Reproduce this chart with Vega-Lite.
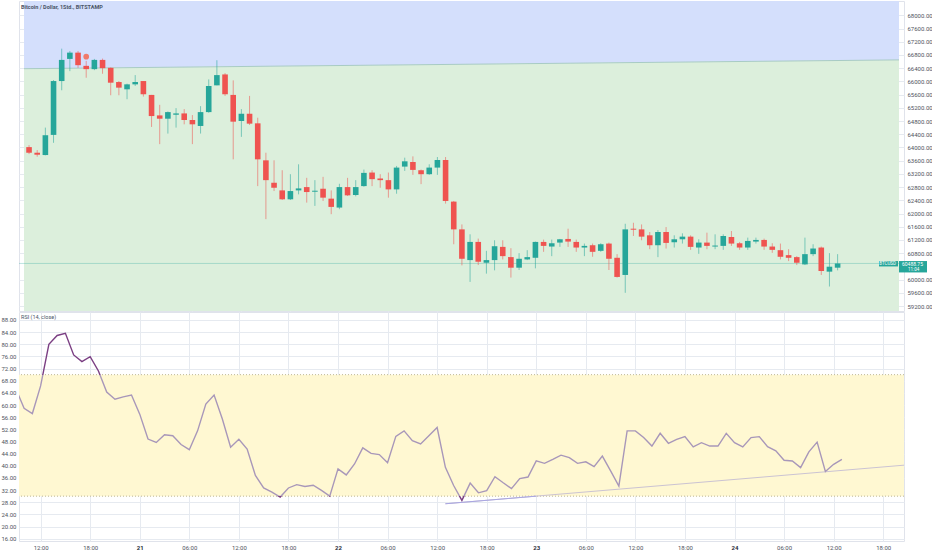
{
  "$schema": "https://vega.github.io/schema/vega-lite/v6.json",
  "padding": 0,
  "bounds": "flush",
  "spacing": 1,
  "background": "white",
  "datasets": {
    "zones": [
      {"t": "2024-06-20T09:23:00Z", "top": 68433, "mid": 66384, "bot": 59049},
      {"t": "2024-06-24T20:31:00Z", "top": 68433, "mid": 66650, "bot": 59049}
    ],
    "candles": [
      {"t": "2024-06-20T10:00:00Z", "open": 64010, "high": 64070, "low": 63800, "close": 63840},
      {"t": "2024-06-20T11:00:00Z", "open": 63840, "high": 63920, "low": 63720, "close": 63780},
      {"t": "2024-06-20T12:00:00Z", "open": 63770, "high": 64600, "low": 63760, "close": 64370},
      {"t": "2024-06-20T13:00:00Z", "open": 64380, "high": 66040, "low": 64140, "close": 66010},
      {"t": "2024-06-20T14:00:00Z", "open": 66010, "high": 66990, "low": 65730, "close": 66650},
      {"t": "2024-06-20T15:00:00Z", "open": 66680, "high": 66920, "low": 66310, "close": 66870},
      {"t": "2024-06-20T16:00:00Z", "open": 66870, "high": 66920, "low": 66410, "close": 66490},
      {"t": "2024-06-20T17:00:00Z", "open": 66470, "high": 66620, "low": 66110, "close": 66370},
      {"t": "2024-06-20T18:00:00Z", "open": 66370, "high": 66680, "low": 66340, "close": 66650},
      {"t": "2024-06-20T19:00:00Z", "open": 66650, "high": 66690, "low": 66230, "close": 66400},
      {"t": "2024-06-20T20:00:00Z", "open": 66410, "high": 66420, "low": 65580, "close": 65960},
      {"t": "2024-06-20T21:00:00Z", "open": 65980, "high": 66010, "low": 65580, "close": 65810},
      {"t": "2024-06-20T22:00:00Z", "open": 65760, "high": 65930, "low": 65460, "close": 65910},
      {"t": "2024-06-20T23:00:00Z", "open": 65910, "high": 66190, "low": 65860, "close": 65980},
      {"t": "2024-06-21T00:00:00Z", "open": 66010, "high": 66010, "low": 65540, "close": 65610},
      {"t": "2024-06-21T01:00:00Z", "open": 65590, "high": 65590, "low": 64620, "close": 64950},
      {"t": "2024-06-21T02:00:00Z", "open": 64970, "high": 65290, "low": 64100, "close": 64870},
      {"t": "2024-06-21T03:00:00Z", "open": 64870, "high": 65090, "low": 64420, "close": 65070},
      {"t": "2024-06-21T04:00:00Z", "open": 64990, "high": 65190, "low": 64600, "close": 65030},
      {"t": "2024-06-21T05:00:00Z", "open": 65030, "high": 65160, "low": 64700, "close": 64830},
      {"t": "2024-06-21T06:00:00Z", "open": 64830, "high": 64980, "low": 64100, "close": 64700},
      {"t": "2024-06-21T07:00:00Z", "open": 64650, "high": 65250, "low": 64420, "close": 65070},
      {"t": "2024-06-21T08:00:00Z", "open": 65070, "high": 66060, "low": 65050, "close": 65860},
      {"t": "2024-06-21T09:00:00Z", "open": 65880, "high": 66640, "low": 65880, "close": 66190},
      {"t": "2024-06-21T10:00:00Z", "open": 66210, "high": 66250, "low": 65560, "close": 65610},
      {"t": "2024-06-21T11:00:00Z", "open": 65590, "high": 66030, "low": 63640, "close": 64780},
      {"t": "2024-06-21T12:00:00Z", "open": 64800, "high": 65160, "low": 64320, "close": 65020},
      {"t": "2024-06-21T13:00:00Z", "open": 65020, "high": 65560, "low": 64680, "close": 64720},
      {"t": "2024-06-21T14:00:00Z", "open": 64730, "high": 64900, "low": 62830, "close": 63640},
      {"t": "2024-06-21T15:00:00Z", "open": 63610, "high": 63840, "low": 61830, "close": 63010},
      {"t": "2024-06-21T16:00:00Z", "open": 62930, "high": 63610, "low": 62680, "close": 62780},
      {"t": "2024-06-21T17:00:00Z", "open": 62700, "high": 63310, "low": 62410, "close": 62430},
      {"t": "2024-06-21T18:00:00Z", "open": 62430, "high": 63190, "low": 62410, "close": 62680},
      {"t": "2024-06-21T19:00:00Z", "open": 62700, "high": 63490, "low": 62580, "close": 62760},
      {"t": "2024-06-21T20:00:00Z", "open": 62800, "high": 63080, "low": 62330, "close": 62650},
      {"t": "2024-06-21T21:00:00Z", "open": 62660, "high": 63010, "low": 62230, "close": 62690},
      {"t": "2024-06-21T22:00:00Z", "open": 62750, "high": 63110, "low": 62380, "close": 62480},
      {"t": "2024-06-21T23:00:00Z", "open": 62450, "high": 62700, "low": 61980, "close": 62200},
      {"t": "2024-06-22T00:00:00Z", "open": 62180, "high": 62900, "low": 62130, "close": 62800},
      {"t": "2024-06-22T01:00:00Z", "open": 62800, "high": 63080, "low": 62530, "close": 62550},
      {"t": "2024-06-22T02:00:00Z", "open": 62560, "high": 63010, "low": 62520, "close": 62800},
      {"t": "2024-06-22T03:00:00Z", "open": 62830, "high": 63330, "low": 62810, "close": 63230},
      {"t": "2024-06-22T04:00:00Z", "open": 63240, "high": 63310, "low": 62830, "close": 63040},
      {"t": "2024-06-22T05:00:00Z", "open": 63060, "high": 63190, "low": 62780, "close": 63010},
      {"t": "2024-06-22T06:00:00Z", "open": 63010, "high": 63240, "low": 62480, "close": 62730},
      {"t": "2024-06-22T07:00:00Z", "open": 62730, "high": 63440, "low": 62600, "close": 63390},
      {"t": "2024-06-22T08:00:00Z", "open": 63420, "high": 63690, "low": 63290, "close": 63580},
      {"t": "2024-06-22T09:00:00Z", "open": 63560, "high": 63730, "low": 63170, "close": 63320},
      {"t": "2024-06-22T10:00:00Z", "open": 63310, "high": 63330, "low": 62890, "close": 63190},
      {"t": "2024-06-22T11:00:00Z", "open": 63190, "high": 63490, "low": 63170, "close": 63390},
      {"t": "2024-06-22T12:00:00Z", "open": 63390, "high": 63710, "low": 63170, "close": 63620},
      {"t": "2024-06-22T13:00:00Z", "open": 63620, "high": 63710, "low": 62300, "close": 62380},
      {"t": "2024-06-22T14:00:00Z", "open": 62360, "high": 62380, "low": 61070, "close": 61520},
      {"t": "2024-06-22T15:00:00Z", "open": 61520, "high": 61670, "low": 60430, "close": 60630},
      {"t": "2024-06-22T16:00:00Z", "open": 60590, "high": 61370, "low": 59930, "close": 61140},
      {"t": "2024-06-22T17:00:00Z", "open": 61140, "high": 61240, "low": 60440, "close": 60540},
      {"t": "2024-06-22T18:00:00Z", "open": 60510, "high": 60870, "low": 60180, "close": 60590},
      {"t": "2024-06-22T19:00:00Z", "open": 60590, "high": 61190, "low": 60280, "close": 61010},
      {"t": "2024-06-22T20:00:00Z", "open": 60990, "high": 61190, "low": 60610, "close": 60710},
      {"t": "2024-06-22T21:00:00Z", "open": 60680, "high": 60950, "low": 60060, "close": 60360},
      {"t": "2024-06-22T22:00:00Z", "open": 60360, "high": 60800, "low": 60290, "close": 60630},
      {"t": "2024-06-22T23:00:00Z", "open": 60610, "high": 60890, "low": 60590, "close": 60680},
      {"t": "2024-06-23T00:00:00Z", "open": 60660, "high": 61150, "low": 60340, "close": 61140},
      {"t": "2024-06-23T01:00:00Z", "open": 61140, "high": 61210, "low": 60840, "close": 61020},
      {"t": "2024-06-23T02:00:00Z", "open": 61000, "high": 61210, "low": 60710, "close": 61100},
      {"t": "2024-06-23T03:00:00Z", "open": 61120, "high": 61230, "low": 60990, "close": 61220},
      {"t": "2024-06-23T04:00:00Z", "open": 61230, "high": 61540, "low": 60990, "close": 61150},
      {"t": "2024-06-23T05:00:00Z", "open": 61140, "high": 61210, "low": 60840, "close": 60970},
      {"t": "2024-06-23T06:00:00Z", "open": 60970, "high": 61090, "low": 60710, "close": 61020},
      {"t": "2024-06-23T07:00:00Z", "open": 61040, "high": 61090, "low": 60690, "close": 60840},
      {"t": "2024-06-23T08:00:00Z", "open": 60870, "high": 61100, "low": 60840, "close": 61070},
      {"t": "2024-06-23T09:00:00Z", "open": 61090, "high": 61120, "low": 60290, "close": 60630},
      {"t": "2024-06-23T10:00:00Z", "open": 60660, "high": 60770, "low": 60060, "close": 60080},
      {"t": "2024-06-23T11:00:00Z", "open": 60140, "high": 61690, "low": 59600, "close": 61520},
      {"t": "2024-06-23T12:00:00Z", "open": 61540, "high": 61720, "low": 61320, "close": 61510},
      {"t": "2024-06-23T13:00:00Z", "open": 61520, "high": 61670, "low": 61190, "close": 61300},
      {"t": "2024-06-23T14:00:00Z", "open": 61340, "high": 61440, "low": 60920, "close": 61040},
      {"t": "2024-06-23T15:00:00Z", "open": 61040, "high": 61500, "low": 60680, "close": 61440},
      {"t": "2024-06-23T16:00:00Z", "open": 61440, "high": 61590, "low": 60940, "close": 61110},
      {"t": "2024-06-23T17:00:00Z", "open": 61130, "high": 61340, "low": 60970, "close": 61220},
      {"t": "2024-06-23T18:00:00Z", "open": 61220, "high": 61400, "low": 61090, "close": 61300},
      {"t": "2024-06-23T19:00:00Z", "open": 61300, "high": 61340, "low": 60900, "close": 60990},
      {"t": "2024-06-23T20:00:00Z", "open": 60970, "high": 61220, "low": 60780, "close": 61120},
      {"t": "2024-06-23T21:00:00Z", "open": 61120, "high": 61420, "low": 60920, "close": 61020},
      {"t": "2024-06-23T22:00:00Z", "open": 61000, "high": 61370, "low": 60920, "close": 61030},
      {"t": "2024-06-23T23:00:00Z", "open": 61020, "high": 61370, "low": 60900, "close": 61320},
      {"t": "2024-06-24T00:00:00Z", "open": 61290, "high": 61470, "low": 61020, "close": 61090},
      {"t": "2024-06-24T01:00:00Z", "open": 61100, "high": 61140, "low": 60900, "close": 60970},
      {"t": "2024-06-24T02:00:00Z", "open": 60970, "high": 61270, "low": 60900, "close": 61170},
      {"t": "2024-06-24T03:00:00Z", "open": 61150, "high": 61270, "low": 61090, "close": 61200},
      {"t": "2024-06-24T04:00:00Z", "open": 61200, "high": 61240, "low": 60900, "close": 61000},
      {"t": "2024-06-24T05:00:00Z", "open": 61000, "high": 61100, "low": 60810, "close": 60900},
      {"t": "2024-06-24T06:00:00Z", "open": 60890, "high": 61090, "low": 60610, "close": 60690},
      {"t": "2024-06-24T07:00:00Z", "open": 60740, "high": 60920, "low": 60560, "close": 60660},
      {"t": "2024-06-24T08:00:00Z", "open": 60680, "high": 60710, "low": 60440, "close": 60510},
      {"t": "2024-06-24T09:00:00Z", "open": 60460, "high": 61270, "low": 60440, "close": 60770},
      {"t": "2024-06-24T10:00:00Z", "open": 60770, "high": 61070, "low": 60710, "close": 60940},
      {"t": "2024-06-24T11:00:00Z", "open": 60970, "high": 61000, "low": 60140, "close": 60260},
      {"t": "2024-06-24T12:00:00Z", "open": 60240, "high": 60800, "low": 59790, "close": 60390},
      {"t": "2024-06-24T13:00:00Z", "open": 60360, "high": 60770, "low": 60280, "close": 60489}
    ],
    "rsi": [
      {"t": "2024-06-20T09:00:00Z", "v": 65.4},
      {"t": "2024-06-20T10:00:00Z", "v": 58.9},
      {"t": "2024-06-20T11:00:00Z", "v": 57.2},
      {"t": "2024-06-20T12:00:00Z", "v": 66.3},
      {"t": "2024-06-20T13:00:00Z", "v": 80.0},
      {"t": "2024-06-20T14:00:00Z", "v": 82.9},
      {"t": "2024-06-20T15:00:00Z", "v": 83.6},
      {"t": "2024-06-20T16:00:00Z", "v": 76.5},
      {"t": "2024-06-20T17:00:00Z", "v": 74.3},
      {"t": "2024-06-20T18:00:00Z", "v": 75.9},
      {"t": "2024-06-20T19:00:00Z", "v": 71.2},
      {"t": "2024-06-20T20:00:00Z", "v": 64.3},
      {"t": "2024-06-20T21:00:00Z", "v": 61.9},
      {"t": "2024-06-20T22:00:00Z", "v": 62.7},
      {"t": "2024-06-20T23:00:00Z", "v": 63.3},
      {"t": "2024-06-21T00:00:00Z", "v": 57.0},
      {"t": "2024-06-21T01:00:00Z", "v": 48.8},
      {"t": "2024-06-21T02:00:00Z", "v": 47.7},
      {"t": "2024-06-21T03:00:00Z", "v": 50.2},
      {"t": "2024-06-21T04:00:00Z", "v": 49.9},
      {"t": "2024-06-21T05:00:00Z", "v": 47.0},
      {"t": "2024-06-21T06:00:00Z", "v": 45.3},
      {"t": "2024-06-21T07:00:00Z", "v": 51.5},
      {"t": "2024-06-21T08:00:00Z", "v": 60.3},
      {"t": "2024-06-21T09:00:00Z", "v": 63.3},
      {"t": "2024-06-21T10:00:00Z", "v": 55.4},
      {"t": "2024-06-21T11:00:00Z", "v": 46.1},
      {"t": "2024-06-21T12:00:00Z", "v": 48.7},
      {"t": "2024-06-21T13:00:00Z", "v": 45.5},
      {"t": "2024-06-21T14:00:00Z", "v": 36.8},
      {"t": "2024-06-21T15:00:00Z", "v": 32.7},
      {"t": "2024-06-21T16:00:00Z", "v": 31.3},
      {"t": "2024-06-21T17:00:00Z", "v": 29.7},
      {"t": "2024-06-21T18:00:00Z", "v": 32.7},
      {"t": "2024-06-21T19:00:00Z", "v": 33.8},
      {"t": "2024-06-21T20:00:00Z", "v": 33.2},
      {"t": "2024-06-21T21:00:00Z", "v": 33.6},
      {"t": "2024-06-21T22:00:00Z", "v": 31.9},
      {"t": "2024-06-21T23:00:00Z", "v": 30.0},
      {"t": "2024-06-22T00:00:00Z", "v": 39.0},
      {"t": "2024-06-22T01:00:00Z", "v": 37.0},
      {"t": "2024-06-22T02:00:00Z", "v": 40.6},
      {"t": "2024-06-22T03:00:00Z", "v": 45.9},
      {"t": "2024-06-22T04:00:00Z", "v": 44.1},
      {"t": "2024-06-22T05:00:00Z", "v": 43.7},
      {"t": "2024-06-22T06:00:00Z", "v": 41.0},
      {"t": "2024-06-22T07:00:00Z", "v": 49.7},
      {"t": "2024-06-22T08:00:00Z", "v": 51.5},
      {"t": "2024-06-22T09:00:00Z", "v": 48.3},
      {"t": "2024-06-22T10:00:00Z", "v": 47.2},
      {"t": "2024-06-22T11:00:00Z", "v": 49.9},
      {"t": "2024-06-22T12:00:00Z", "v": 52.6},
      {"t": "2024-06-22T13:00:00Z", "v": 39.5},
      {"t": "2024-06-22T14:00:00Z", "v": 33.5},
      {"t": "2024-06-22T15:00:00Z", "v": 28.6},
      {"t": "2024-06-22T16:00:00Z", "v": 34.3},
      {"t": "2024-06-22T17:00:00Z", "v": 31.1},
      {"t": "2024-06-22T18:00:00Z", "v": 31.8},
      {"t": "2024-06-22T19:00:00Z", "v": 36.4},
      {"t": "2024-06-22T20:00:00Z", "v": 34.4},
      {"t": "2024-06-22T21:00:00Z", "v": 32.5},
      {"t": "2024-06-22T22:00:00Z", "v": 35.8},
      {"t": "2024-06-22T23:00:00Z", "v": 36.3},
      {"t": "2024-06-23T00:00:00Z", "v": 41.6},
      {"t": "2024-06-23T01:00:00Z", "v": 40.8},
      {"t": "2024-06-23T02:00:00Z", "v": 42.1},
      {"t": "2024-06-23T03:00:00Z", "v": 43.5},
      {"t": "2024-06-23T04:00:00Z", "v": 42.7},
      {"t": "2024-06-23T05:00:00Z", "v": 40.8},
      {"t": "2024-06-23T06:00:00Z", "v": 41.3},
      {"t": "2024-06-23T07:00:00Z", "v": 39.7},
      {"t": "2024-06-23T08:00:00Z", "v": 43.2},
      {"t": "2024-06-23T09:00:00Z", "v": 38.3},
      {"t": "2024-06-23T10:00:00Z", "v": 33.3},
      {"t": "2024-06-23T11:00:00Z", "v": 51.5},
      {"t": "2024-06-23T12:00:00Z", "v": 51.5},
      {"t": "2024-06-23T13:00:00Z", "v": 49.3},
      {"t": "2024-06-23T14:00:00Z", "v": 46.5},
      {"t": "2024-06-23T15:00:00Z", "v": 50.7},
      {"t": "2024-06-23T16:00:00Z", "v": 47.4},
      {"t": "2024-06-23T17:00:00Z", "v": 48.7},
      {"t": "2024-06-23T18:00:00Z", "v": 49.6},
      {"t": "2024-06-23T19:00:00Z", "v": 46.2},
      {"t": "2024-06-23T20:00:00Z", "v": 47.6},
      {"t": "2024-06-23T21:00:00Z", "v": 46.5},
      {"t": "2024-06-23T22:00:00Z", "v": 46.5},
      {"t": "2024-06-23T23:00:00Z", "v": 50.7},
      {"t": "2024-06-24T00:00:00Z", "v": 47.6},
      {"t": "2024-06-24T01:00:00Z", "v": 46.2},
      {"t": "2024-06-24T02:00:00Z", "v": 49.3},
      {"t": "2024-06-24T03:00:00Z", "v": 49.6},
      {"t": "2024-06-24T04:00:00Z", "v": 46.3},
      {"t": "2024-06-24T05:00:00Z", "v": 44.9},
      {"t": "2024-06-24T06:00:00Z", "v": 41.8},
      {"t": "2024-06-24T07:00:00Z", "v": 41.6},
      {"t": "2024-06-24T08:00:00Z", "v": 39.4},
      {"t": "2024-06-24T09:00:00Z", "v": 44.6},
      {"t": "2024-06-24T10:00:00Z", "v": 47.8},
      {"t": "2024-06-24T11:00:00Z", "v": 38.1},
      {"t": "2024-06-24T12:00:00Z", "v": 40.5},
      {"t": "2024-06-24T13:00:00Z", "v": 42.1}
    ],
    "trend": [
      {"t": "2024-06-22T13:00:00Z", "v": 27.5},
      {"t": "2024-06-24T20:31:00Z", "v": 40.2}
    ],
    "trendStart": [
      {"t": "2024-06-22T13:00:00Z", "v": 27.5},
      {"t": "2024-06-23T00:00:00Z", "v": 30.0}
    ],
    "band": [
      {"t0": "2024-06-20T09:23:00Z", "t1": "2024-06-24T20:31:00Z", "lo": 30, "hi": 70}
    ],
    "levels": [{"v": 30}, {"v": 70}],
    "last": [
      {"t": "2024-06-24T20:31:00Z", "p": 60488.75, "sym": "BTCUSD", "price": "60488.75", "left": "11:04"}
    ],
    "marker": [{"t": "2024-06-20T17:00:00Z", "p": 66747}]
  },
  "config": {
    "font": "Roboto",
    "view": {"stroke": "#e0e3eb"},
    "axis": {
      "labelFont": "Roboto",
      "labelFontSize": 6,
      "labelColor": "#50535e",
      "gridColor": "#e6eaf0",
      "domain": false,
      "ticks": false,
      "labelOverlap": false
    }
  },
  "vconcat": [
    {
      "width": 885,
      "height": 310,
      "title": {
        "text": "Bitcoin / Dollar, 1Std., BITSTAMP",
        "anchor": "start",
        "frame": "group",
        "offset": -9,
        "dx": 2,
        "fontSize": 5.5,
        "fontWeight": "bold",
        "color": "#4b5567"
      },
      "layer": [
        {
          "data": {"name": "zones"},
          "mark": {"type": "area", "color": "#d4dffc", "opacity": 1},
          "encoding": {
            "x": {
              "field": "t", "type": "temporal", "title": null,
              "scale": {"type": "utc", "domain": [1718875380000, 1719261060000]},
              "axis": {
                "labels": false,
                "grid": true,
                "tickCount": 100,
                "values": [1718884800000, 1718906400000, 1718928000000, 1718949600000, 1718971200000, 1718992800000, 1719014400000, 1719036000000, 1719057600000, 1719079200000, 1719100800000, 1719122400000, 1719144000000, 1719165600000, 1719187200000, 1719208800000, 1719230400000, 1719252000000]
              }
            },
            "y": {
              "field": "mid", "type": "quantitative", "title": null,
              "scale": {"domain": [59049, 68433], "nice": false, "zero": false},
              "axis": {
                "orient": "right",
                "grid": true,
                "format": ".2f",
                "labelPadding": 3,
                "tickCount": 100,
                "values": [59200, 59600, 60000, 60800, 61200, 61600, 62000, 62400, 62800, 63200, 63600, 64000, 64400, 64800, 65200, 65600, 66000, 66400, 66800, 67200, 67600, 68000]
              }
            },
            "y2": {"field": "top"}
          }
        },
        {
          "data": {"name": "zones"},
          "mark": {"type": "area", "color": "#dcefdc", "opacity": 1},
          "encoding": {
            "x": {"field": "t", "type": "temporal", "title": null},
            "y": {"field": "mid", "type": "quantitative", "title": null},
            "y2": {"field": "bot"}
          }
        },
        {
          "data": {"name": "zones"},
          "mark": {"type": "line", "color": "#a8cbc4", "strokeWidth": 1},
          "encoding": {
            "x": {"field": "t", "type": "temporal", "title": null},
            "y": {"field": "mid", "type": "quantitative", "title": null}
          }
        },
        {
          "data": {"name": "last"},
          "mark": {"type": "rule", "color": "#26a69a", "opacity": 0.3, "strokeWidth": 1},
          "encoding": {
            "y": {"field": "p", "type": "quantitative", "title": null}
          }
        },
        {
          "data": {"name": "candles"},
          "mark": {"type": "rule", "strokeWidth": 1, "opacity": 0.55},
          "encoding": {
            "x": {"field": "t", "type": "temporal", "title": null},
            "y": {"field": "low", "type": "quantitative", "title": null},
            "y2": {"field": "high"},
            "color": {"condition": {"test": "datum.close >= datum.open", "value": "#26a69a"}, "value": "#ef5350"}
          }
        },
        {
          "data": {"name": "candles"},
          "mark": {"type": "bar", "size": 5.6},
          "encoding": {
            "x": {"field": "t", "type": "temporal", "title": null},
            "y": {"field": "open", "type": "quantitative", "title": null},
            "y2": {"field": "close"},
            "color": {"condition": {"test": "datum.close >= datum.open", "value": "#26a69a"}, "value": "#ef5350"}
          }
        },
        {
          "data": {"name": "marker"},
          "mark": {"type": "point", "filled": true, "size": 32, "color": "#f07a6a", "opacity": 1},
          "encoding": {
            "x": {"field": "t", "type": "temporal", "title": null},
            "y": {"field": "p", "type": "quantitative", "title": null}
          }
        },
        {
          "data": {"name": "last"},
          "mark": {"type": "point", "filled": true, "opacity": 1, "color": "#26a69a", "size": 400, "shape": "M-2,-0.24H-0.1V0.3H-2Z"},
          "encoding": {
            "x": {"field": "t", "type": "temporal", "title": null},
            "y": {"field": "p", "type": "quantitative", "title": null}
          }
        },
        {
          "data": {"name": "last"},
          "mark": {"type": "point", "filled": true, "opacity": 1, "color": "#26a69a", "size": 400, "shape": "M0,-0.24H2.8V0.9H0Z"},
          "encoding": {
            "x": {"field": "t", "type": "temporal", "title": null},
            "y": {"field": "p", "type": "quantitative", "title": null}
          }
        },
        {
          "data": {"name": "last"},
          "mark": {"type": "text", "color": "white", "fontSize": 4.5, "align": "right", "dx": -3, "dy": 0.5},
          "encoding": {
            "x": {"field": "t", "type": "temporal", "title": null},
            "y": {"field": "p", "type": "quantitative", "title": null},
            "text": {"field": "sym"}
          }
        },
        {
          "data": {"name": "last"},
          "mark": {"type": "text", "color": "white", "fontSize": 5, "align": "left", "dx": 3, "dy": 0.5},
          "encoding": {
            "x": {"field": "t", "type": "temporal", "title": null},
            "y": {"field": "p", "type": "quantitative", "title": null},
            "text": {"field": "price"}
          }
        },
        {
          "data": {"name": "last"},
          "mark": {"type": "text", "color": "white", "fontSize": 4.5, "align": "left", "dx": 9, "dy": 6.5},
          "encoding": {
            "x": {"field": "t", "type": "temporal", "title": null},
            "y": {"field": "p", "type": "quantitative", "title": null},
            "text": {"field": "left"}
          }
        }
      ]
    },
    {
      "width": 885,
      "height": 229,
      "title": {
        "text": "RSI (14, close)",
        "anchor": "start",
        "frame": "group",
        "offset": -8,
        "dx": 2,
        "fontSize": 5.5,
        "fontWeight": "normal",
        "color": "#4b5567"
      },
      "layer": [
        {
          "data": {"name": "band"},
          "mark": {"type": "rect", "color": "#fff8d2", "opacity": 1},
          "encoding": {
            "x": {
              "field": "t0", "type": "temporal", "title": null,
              "scale": {"type": "utc", "domain": [1718875380000, 1719261060000]},
              "axis": {
                "grid": true,
                "labelPadding": 3,
                "tickCount": 100,
                "values": [1718884800000, 1718906400000, 1718928000000, 1718949600000, 1718971200000, 1718992800000, 1719014400000, 1719036000000, 1719057600000, 1719079200000, 1719100800000, 1719122400000, 1719144000000, 1719165600000, 1719187200000, 1719208800000, 1719230400000, 1719252000000],
                "labelExpr": "utchours(datum.value) == 0 ? utcFormat(datum.value, '%d') : utcFormat(datum.value, '%H:%M')",
                "labelFontWeight": {"condition": {"test": "utchours(datum.value) == 0", "value": "bold"}, "value": "normal"},
                "labelColor": {"condition": {"test": "utchours(datum.value) == 0", "value": "#2a2e39"}, "value": "#50535e"}
              }
            },
            "x2": {"field": "t1"},
            "y": {
              "field": "lo", "type": "quantitative", "title": null,
              "scale": {"domain": [15.24, 90.63], "nice": false, "zero": false},
              "axis": {
                "orient": "left",
                "grid": true,
                "format": ".2f",
                "labelPadding": 3,
                "tickCount": 100,
                "values": [16, 20, 24, 28, 32, 36, 40, 44, 48, 52, 56, 60, 64, 68, 72, 76, 80, 84, 88]
              }
            },
            "y2": {"field": "hi"}
          }
        },
        {
          "data": {"name": "levels"},
          "mark": {"type": "rule", "color": "#bdb795", "strokeDash": [1, 2], "strokeWidth": 1},
          "encoding": {
            "y": {"field": "v", "type": "quantitative", "title": null}
          }
        },
        {
          "data": {"name": "trend"},
          "mark": {"type": "line", "color": "#cbc3d3", "strokeWidth": 1},
          "encoding": {
            "x": {"field": "t", "type": "temporal", "title": null},
            "y": {"field": "v", "type": "quantitative", "title": null}
          }
        },
        {
          "data": {"name": "trendStart"},
          "mark": {"type": "line", "color": "#a9a6e2", "strokeWidth": 1},
          "encoding": {
            "x": {"field": "t", "type": "temporal", "title": null},
            "y": {"field": "v", "type": "quantitative", "title": null}
          }
        },
        {
          "data": {"name": "rsi"},
          "mark": {
            "type": "line",
            "clip": true,
            "strokeWidth": 1.4,
            "color": {
              "gradient": "linear",
              "x1": 0, "y1": 0, "x2": 0, "y2": 1,
              "stops": [
                {"offset": 0, "color": "#7b3f83"},
                {"offset": 0.247, "color": "#7b3f83"},
                {"offset": 0.247, "color": "#a897b9"},
                {"offset": 0.974, "color": "#a897b9"},
                {"offset": 0.974, "color": "#7b3f83"},
                {"offset": 1, "color": "#7b3f83"}
              ]
            }
          },
          "encoding": {
            "x": {"field": "t", "type": "temporal", "title": null},
            "y": {"field": "v", "type": "quantitative", "title": null}
          }
        }
      ]
    }
  ]
}
